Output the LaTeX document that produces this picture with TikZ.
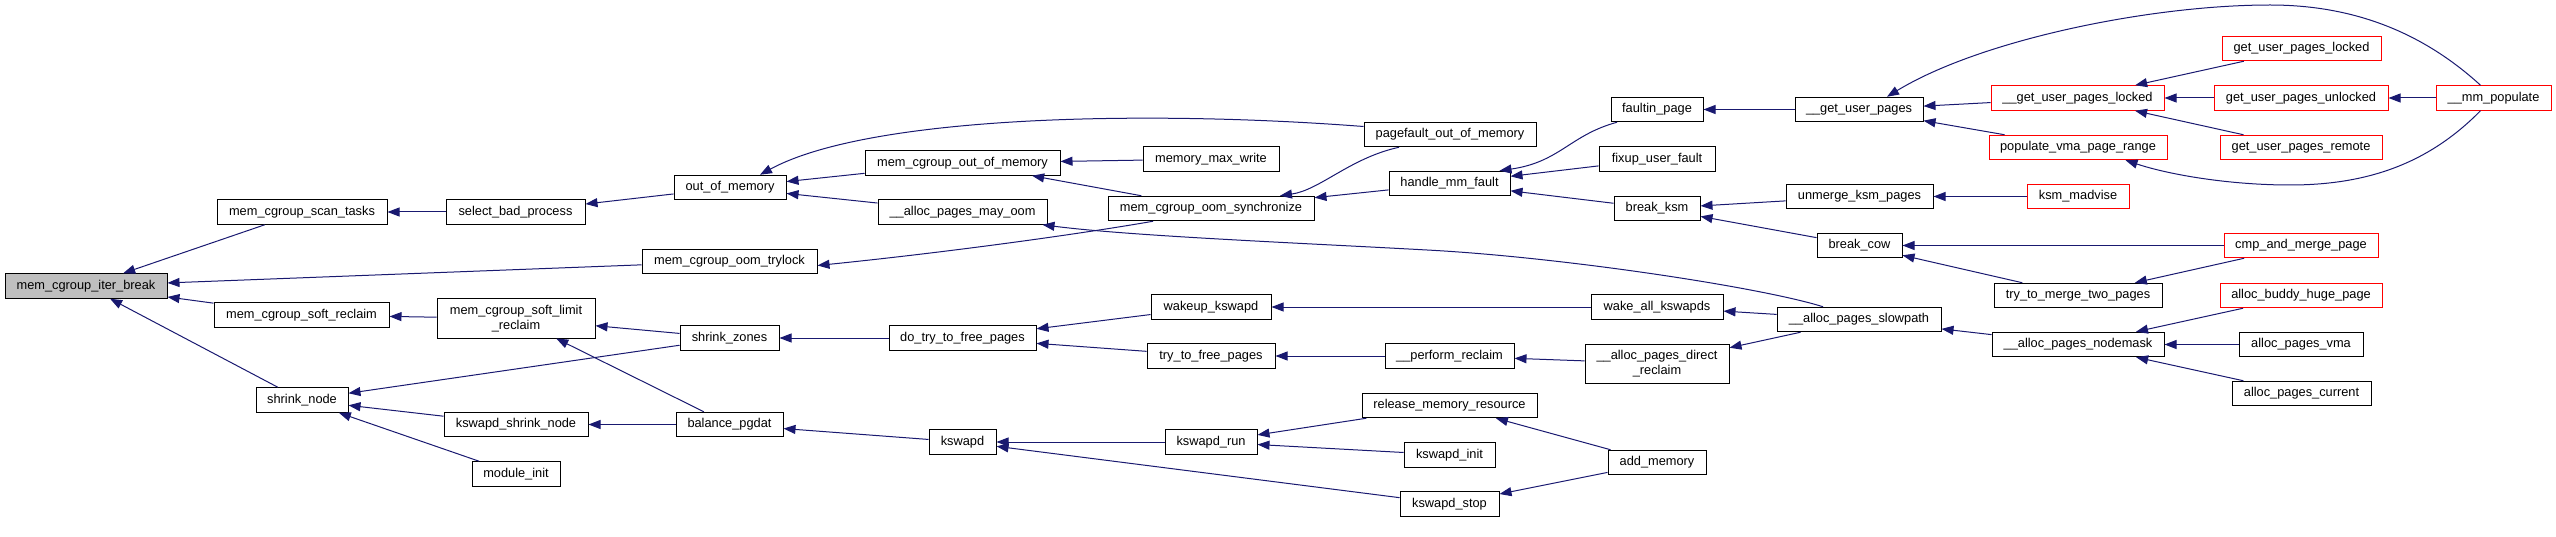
\documentclass[tikz,border=0pt]{standalone}
\usepackage{fontspec}
\setmainfont{Liberation Sans}
\usetikzlibrary{arrows.meta}
\definecolor{edgecol}{HTML}{191970}
\definecolor{rootfill}{HTML}{BFBFBF}
\tikzset{
  box/.style={draw=black, line width=1pt, fill=white, inner sep=0pt, minimum height=24.5pt,
    font=\fontsize{12.8}{14.5}\selectfont, align=center},
  rootbox/.style={box, fill=rootfill},
  redbox/.style={box, draw=red},
  tall/.style={minimum height=39pt},
  edge/.style={draw=edgecol, line width=1pt, -{Triangle[length=12pt,width=9pt]}, fill=none},
}
\begin{document}
\begin{tikzpicture}[x=1pt,y=-1pt]
\useasboundingbox (0,0) rectangle (2556,537);
% column 1
\node[rootbox, minimum width=162] (iterbreak) at (86,286) {mem\_cgroup\_iter\_break};
% column 2
\node[box, minimum width=170] (scantasks) at (302,212) {mem\_cgroup\_scan\_tasks};
\node[box, minimum width=175] (softreclaim) at (301.5,315) {mem\_cgroup\_soft\_reclaim};
\node[box, minimum width=92] (shrinknode) at (302,400) {shrink\_node};
% column 3
\node[box, minimum width=139] (selectbad) at (515.5,212) {select\_bad\_process};
\node[box, tall, minimum width=158] (softlimit) at (516,318.5) {mem\_cgroup\_soft\_limit\\\_reclaim};
\node[box, minimum width=144] (kswapdshrink) at (516,424.5) {kswapd\_shrink\_node};
\node[box, minimum width=88] (moduleinit) at (516,474) {module\_init};
% column 4
\node[box, minimum width=112] (oom) at (730,187.5) {out\_of\_memory};
\node[box, minimum width=175] (trylock) at (729.5,261.5) {mem\_cgroup\_oom\_trylock};
\node[box, minimum width=99] (shrinkzones) at (729.5,338) {shrink\_zones};
\node[box, minimum width=107] (balance) at (729.5,424.5) {balance\_pgdat};
% column 5
\node[box, minimum width=195] (mcoom) at (962.5,163) {mem\_cgroup\_out\_of\_memory};
\node[box, minimum width=169] (mayoom) at (962.5,212) {\_\_alloc\_pages\_may\_oom};
\node[box, minimum width=147] (dotry) at (962.5,338) {do\_try\_to\_free\_pages};
\node[box, minimum width=67] (kswapd) at (962.5,442) {kswapd};
% column 6
\node[box, minimum width=136] (maxwrite) at (1211,159) {memory\_max\_write};
\node[box, minimum width=206] (sync) at (1211,208.5) {mem\_cgroup\_oom\_synchronize};
\node[box, minimum width=120] (wakeup) at (1211,307) {wakeup\_kswapd};
\node[box, minimum width=128] (trytofree) at (1211,356) {try\_to\_free\_pages};
\node[box, minimum width=92] (kswapdrun) at (1211,442) {kswapd\_run};
% column 7
\node[box, minimum width=172] (pagefault) at (1450,134.5) {pagefault\_out\_of\_memory};
\node[box, minimum width=121] (handle) at (1449.5,183.5) {handle\_mm\_fault};
\node[box, minimum width=129] (perform) at (1449.5,356) {\_\_perform\_reclaim};
\node[box, minimum width=175] (release) at (1449.5,405.5) {release\_memory\_resource};
\node[box, minimum width=91] (kswapdinit) at (1449.5,455) {kswapd\_init};
\node[box, minimum width=99] (kswapdstop) at (1449.5,504) {kswapd\_stop};
% column 8
\node[box, minimum width=92] (faultin) at (1657,109.5) {faultin\_page};
\node[box, minimum width=116] (fixup) at (1657,159) {fixup\_user\_fault};
\node[box, minimum width=86] (breakksm) at (1657,208.5) {break\_ksm};
\node[box, minimum width=132] (wakeall) at (1657,307) {wake\_all\_kswapds};
\node[box, tall, minimum width=144] (direct) at (1657,363.5) {\_\_alloc\_pages\_direct\\\_reclaim};
\node[box, minimum width=98] (addmem) at (1657,462.5) {add\_memory};
% column 9
\node[box, minimum width=128] (gup) at (1859,109.5) {\_\_get\_user\_pages};
\node[box, minimum width=147] (unmerge) at (1859.5,196.5) {unmerge\_ksm\_pages};
\node[box, minimum width=85] (breakcow) at (1859.5,245.5) {break\_cow};
\node[box, minimum width=164] (slowpath) at (1859,319.5) {\_\_alloc\_pages\_slowpath};
% column 10
\node[redbox, minimum width=173] (gupl) at (2077.5,98) {\_\_get\_user\_pages\_locked};
\node[redbox, minimum width=178] (popvma) at (2078,147.5) {populate\_vma\_page\_range};
\node[redbox, minimum width=102] (madvise) at (2078,196.5) {ksm\_madvise};
\node[box, minimum width=168] (trymerge) at (2078,295.5) {try\_to\_merge\_two\_pages};
\node[box, minimum width=172] (nodemask) at (2078,344.5) {\_\_alloc\_pages\_nodemask};
% column 11
\node[redbox, minimum width=159] (guplocked) at (2301.5,48.5) {get\_user\_pages\_locked};
\node[redbox, minimum width=174] (gupunlocked) at (2301,98) {get\_user\_pages\_unlocked};
\node[redbox, minimum width=162] (gupremote) at (2301,147.5) {get\_user\_pages\_remote};
\node[redbox, minimum width=154] (cmpmerge) at (2301,245.5) {cmp\_and\_merge\_page};
\node[redbox, minimum width=162] (buddy) at (2301,295.5) {alloc\_buddy\_huge\_page};
\node[box, minimum width=124] (pagesvma) at (2301,344.5) {alloc\_pages\_vma};
\node[box, minimum width=139] (pagescur) at (2301.5,393.5) {alloc\_pages\_current};
% column 12
\node[redbox, minimum width=115] (mmpop) at (2493.5,98) {\_\_mm\_populate};

% edges (caller -> callee)
\draw[edge] (scantasks) -- (iterbreak);
\draw[edge] (trylock) -- (iterbreak);
\draw[edge] (softreclaim) -- (iterbreak);
\draw[edge] (shrinknode) -- (iterbreak);
\draw[edge] (selectbad) -- (scantasks);
\draw[edge] (softlimit) -- (softreclaim);
\draw[edge] (shrinkzones) -- (shrinknode);
\draw[edge] (kswapdshrink) -- (shrinknode);
\draw[edge] (moduleinit) -- (shrinknode);
\draw[edge] (oom) -- (selectbad);
\draw[edge] ([xshift=-58]sync.south) .. controls (1080,234) and (950,252) .. ([yshift=-4]trylock.east);
\draw[edge] (shrinkzones) -- (softlimit);
\draw[edge] (balance) -- (softlimit);
\draw[edge] (dotry) -- (shrinkzones);
\draw[edge] (balance) -- (kswapdshrink);
\draw[edge] (kswapd) -- (balance);
\draw[edge] ([yshift=8]pagefault.west) .. controls (1150,110) and (870,115) .. ([xshift=30]oom.north);
\draw[edge] (mcoom) -- (oom);
\draw[edge] (mayoom) -- (oom);
\draw[edge] (maxwrite) -- (mcoom);
\draw[edge] (sync) -- (mcoom);
\draw[edge] ([xshift=-36]slowpath.north) .. controls (1760,287) and (1560,257) .. (1427,250)
   .. controls (1300,243) and (1130,236) .. ([xshift=-5]mayoom.south east);
\draw[edge] (wakeup) -- (dotry);
\draw[edge] (trytofree) -- (dotry);
\draw[edge] (kswapdrun) -- (kswapd);
\draw[edge] (kswapdstop) -- (kswapd);
\draw[edge] ([xshift=-51]pagefault.south) .. controls (1350,158) and (1320,190) .. ([xshift=69]sync.north);
\draw[edge] (handle) -- (sync);
\draw[edge] ([xshift=-40]faultin.south) .. controls (1570,135) and (1560,162) .. ([xshift=50]handle.north);
\draw[edge] (fixup) -- (handle);
\draw[edge] (breakksm) -- (handle);
\draw[edge] (wakeall) -- (wakeup);
\draw[edge] (perform) -- (trytofree);
\draw[edge] (direct) -- (perform);
\draw[edge] (release) -- (kswapdrun);
\draw[edge] (kswapdinit) -- (kswapdrun);
\draw[edge] (addmem) -- (release);
\draw[edge] (addmem) -- (kswapdstop);
\draw[edge] (gup) -- (faultin);
\draw[edge] (unmerge) -- (breakksm);
\draw[edge] (breakcow) -- (breakksm);
\draw[edge] (slowpath) -- (wakeall);
\draw[edge] (slowpath) -- (direct);
\draw[edge] ([xshift=-13]mmpop.north) .. controls (2420,30) and (2350,5) .. (2270,5)
   .. controls (2150,5) and (1980,40) .. ([xshift=28]gup.north);
\draw[edge] (gupl) -- (gup);
\draw[edge] (popvma) -- (gup);
\draw[edge] (madvise) -- (unmerge);
\draw[edge] (cmpmerge) -- (breakcow);
\draw[edge] (trymerge) -- (breakcow);
\draw[edge] (nodemask) -- (slowpath);
\draw[edge] (guplocked) -- (gupl);
\draw[edge] (gupunlocked) -- (gupl);
\draw[edge] (gupremote) -- (gupl);
\draw[edge] (mmpop) -- (gupunlocked);
\draw[edge] ([xshift=-13]mmpop.south) .. controls (2430,162) and (2370,185) .. (2290,185)
   .. controls (2230,185) and (2170,175) .. ([xshift=-42]popvma.south east);
\draw[edge] (cmpmerge) -- (trymerge);
\draw[edge] (buddy) -- (nodemask);
\draw[edge] (pagesvma) -- (nodemask);
\draw[edge] (pagescur) -- (nodemask);
\end{tikzpicture}
\end{document}
